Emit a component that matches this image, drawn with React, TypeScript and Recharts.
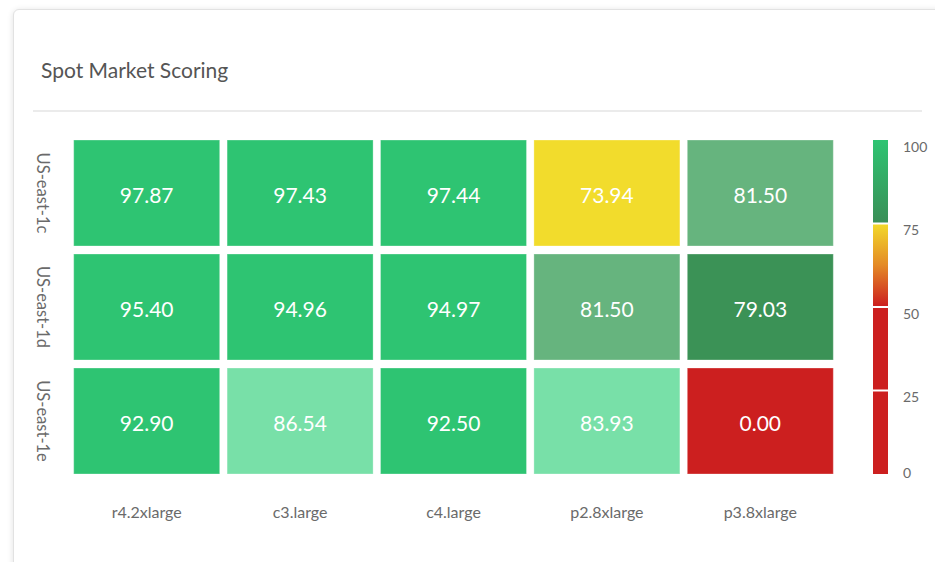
import { ScatterChart, Scatter, XAxis, YAxis } from 'recharts';

const instanceTypes = ['r4.2xlarge', 'c3.large', 'c4.large', 'p2.8xlarge', 'p3.8xlarge'];
const zones = ['US-east-1c', 'US-east-1d', 'US-east-1e'];
const scores1c = [97.87, 97.43, 97.44, 73.94, 81.5];
const scores1d = [95.4, 94.96, 94.97, 81.5, 79.03];
const scores1e = [92.9, 86.54, 92.5, 83.93, 0.0];
const legendTicks = [100, 75, 50, 25, 0];

const cells = [scores1c, scores1d, scores1e].flatMap((row, r) =>
  row.map((score, c) => ({ col: c, row: r, score }))
);

const W = 935;
const H = 562;
const margin = { top: 136, right: 98, bottom: 44, left: 30 };
const plotW = W - margin.left - 40 - margin.right;
const plotH = H - margin.top - 40 - margin.bottom;
const cellW = plotW / instanceTypes.length - 7.4;
const cellH = plotH / zones.length - 8;

function scoreColor(v: number) {
  if (v >= 90) return '#2ec472';
  if (v >= 83) return '#78e0a8';
  if (v >= 80) return '#66b47e';
  if (v >= 75) return '#3b9256';
  if (v >= 50) return '#f2dc2c';
  return '#cc1f1f';
}

const HeatCell = (props: any) => {
  const { cx, cy, payload } = props;
  return (
    <g>
      <rect
        x={cx - cellW / 2}
        y={cy - cellH / 2}
        width={cellW}
        height={cellH}
        fill={scoreColor(payload.score)}
        stroke="#ffffff"
        strokeOpacity={0.3}
      />
      <text x={cx} y={cy + 1} textAnchor="middle" dominantBaseline="central" fill="#fff" fontSize={21}>
        {payload.score.toFixed(2)}
      </text>
    </g>
  );
};

const ZoneTick = (props: any) => {
  const { x, y, payload } = props;
  const tx = x - 19;
  return (
    <text
      x={tx}
      y={y}
      transform={`rotate(90, ${tx}, ${y})`}
      textAnchor="middle"
      dominantBaseline="central"
      fill="#6a6a6a"
      fontSize={16.5}
    >
      {zones[payload.value]}
    </text>
  );
};

function ColorLegend() {
  const x = 873;
  const top = 140;
  const bottom = 474;
  const seg = (bottom - top) / 4;
  return (
    <svg width={W} height={H} style={{ position: 'absolute', left: 0, top: 0, pointerEvents: 'none' }}>
      <defs>
        <linearGradient id="gGreen" x1="0" y1="0" x2="0" y2="1">
          <stop offset="0%" stopColor="#2ec472" />
          <stop offset="100%" stopColor="#3a8f57" />
        </linearGradient>
        <linearGradient id="gWarm" x1="0" y1="0" x2="0" y2="1">
          <stop offset="0%" stopColor="#f2d82a" />
          <stop offset="50%" stopColor="#e48a26" />
          <stop offset="100%" stopColor="#cc1f1f" />
        </linearGradient>
      </defs>
      <rect x={x} y={top} width={15} height={seg - 1} fill="url(#gGreen)" />
      <rect x={x} y={top + seg + 1} width={15} height={seg - 2} fill="url(#gWarm)" />
      <rect x={x} y={top + seg * 2 + 1} width={15} height={seg - 2} fill="#cc1f1f" />
      <rect x={x} y={top + seg * 3 + 1} width={15} height={seg - 1} fill="#cc1f1f" />
      {legendTicks.map((t) => {
        const y = Math.min(top + ((100 - t) / 100) * (bottom - top) + 6, bottom - 2);
        return (
          <text key={t} x={903} y={y} dominantBaseline="central" fill="#6a6a6a" fontSize={14} fontFamily="Lato">
            {t}
          </text>
        );
      })}
    </svg>
  );
}

export default function App() {
  return (
    <div
      style={{
        position: 'relative',
        width: W,
        height: H,
        overflow: 'hidden',
        background: '#fff',
        fontFamily: 'Lato, sans-serif',
      }}
    >
      <style>{`body { margin: 0; }`}</style>
      <div
        style={{
          position: 'absolute',
          left: 13,
          top: 9,
          width: 950,
          height: 600,
          borderRadius: 6,
          border: '1px solid #e2e2e2',
          boxShadow: '0 1px 6px rgba(0,0,0,0.12)',
          background: '#fff',
        }}
      />
      <div style={{ position: 'absolute', left: 41, top: 59, fontSize: 21, lineHeight: '21px', color: '#555' }}>
        Spot Market Scoring
      </div>
      <div style={{ position: 'absolute', left: 33, top: 110, width: 889, height: 2, background: '#ebebeb' }} />
      <div style={{ position: 'absolute', left: 0, top: 0 }}>
        <ScatterChart width={W} height={H} margin={margin}>
          <XAxis
            type="number"
            dataKey="col"
            domain={[-0.5, 4.5]}
            ticks={[0, 1, 2, 3, 4]}
            interval={0}
            tickFormatter={(i: number) => instanceTypes[i]}
            axisLine={false}
            tickLine={false}
            tickMargin={23}
            height={40}
            tick={{ fill: '#6a6a6a', fontSize: 16 }}
          />
          <YAxis
            type="number"
            dataKey="row"
            domain={[-0.5, 2.5]}
            ticks={[0, 1, 2]}
            interval={0}
            reversed
            axisLine={false}
            tickLine={false}
            width={40}
            tick={<ZoneTick />}
          />
          <Scatter data={cells} shape={<HeatCell />} isAnimationActive={false} />
        </ScatterChart>
      </div>
      <ColorLegend />
    </div>
  );
}
